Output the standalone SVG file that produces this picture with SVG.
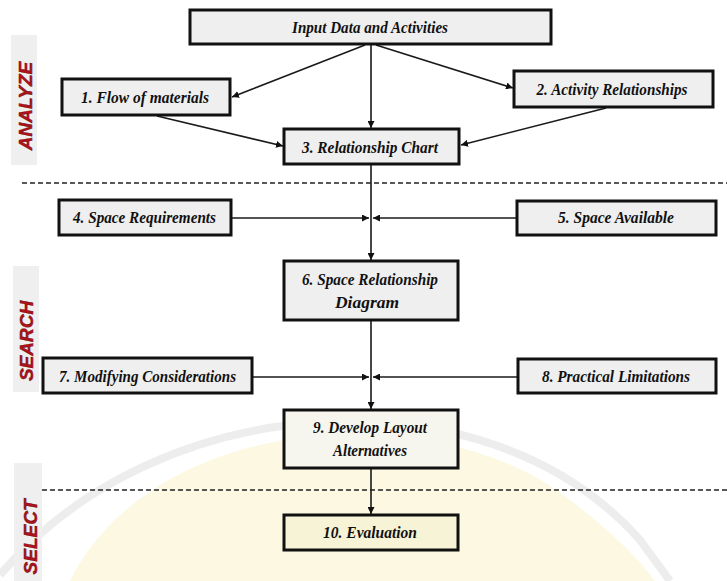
<svg xmlns="http://www.w3.org/2000/svg" width="727" height="581" viewBox="0 0 727 581">
  <style>
    .box { fill: #efefef; stroke: #111; stroke-width: 3; }
    .lbl { font-family: "Liberation Serif", "Times New Roman", serif; font-weight: bold; font-style: italic; font-size: 17px; fill: #111; text-anchor: middle; }
    .con { stroke: #1a1a1a; stroke-width: 1.6; fill: none; }
    .dash { stroke: #222; stroke-width: 1.5; stroke-dasharray: 5 3; fill: none; }
    .band { fill: #efefef; }
    .phase { font-family: "Liberation Sans", Arial, sans-serif; font-weight: bold; font-style: italic; font-size: 19px; fill: #b0121b; stroke: #5a0000; stroke-width: 0.4; text-anchor: middle; }
  </style>
  <defs>
    <marker id="arr" viewBox="0 0 10 10" refX="10" refY="5" markerWidth="7" markerHeight="7" markerUnits="userSpaceOnUse" orient="auto">
      <path d="M0,0 L10,5 L0,10 z" fill="#111"/>
    </marker>
  </defs>
  <rect x="0" y="0" width="727" height="581" fill="#ffffff"/>

  <g id="watermark" opacity="0.5">
    <path d="M70,581 C110,500 200,450 300,438 C400,428 500,445 570,500 C610,530 640,560 655,581 Z" fill="#fbf3c4"/>
    <path d="M0,575 C80,480 200,430 320,422 C440,416 560,450 640,540 L670,581" fill="none" stroke="#dddddd" stroke-width="8"/>
  </g>

  <g id="phases">
    <rect class="band" x="11" y="35" width="26" height="130"/>
    <text class="phase" transform="translate(32,106) rotate(-90)">ANALYZE</text>
    <rect class="band" x="13" y="266" width="26" height="126"/>
    <text class="phase" transform="translate(33,341) rotate(-90)">SEARCH</text>
    <rect class="band" x="14" y="463" width="28" height="118"/>
    <text class="phase" transform="translate(37,537) rotate(-90)">SELECT</text>
  </g>

  <g id="separators">
    <line class="dash" x1="22" y1="183" x2="727" y2="183"/>
    <line class="dash" x1="42" y1="490" x2="727" y2="490"/>
  </g>

  <g id="connectors">
    <path class="con" d="M365,45 L232,97" marker-end="url(#arr)"/>
    <path class="con" d="M376,45 L513,88" marker-end="url(#arr)"/>
    <path class="con" d="M371,45 L371,128" marker-end="url(#arr)"/>
    <path class="con" d="M157,116 L283,146" marker-end="url(#arr)"/>
    <path class="con" d="M606,108 L461,145" marker-end="url(#arr)"/>
    <path class="con" d="M371,165 L371,260" marker-end="url(#arr)"/>
    <path class="con" d="M232,218 L369,218" marker-end="url(#arr)"/>
    <path class="con" d="M516,218 L373,218" marker-end="url(#arr)"/>
    <path class="con" d="M371,321 L371,409" marker-end="url(#arr)"/>
    <path class="con" d="M253,377 L369,377" marker-end="url(#arr)"/>
    <path class="con" d="M517,377 L373,377" marker-end="url(#arr)"/>
    <path class="con" d="M371,469 L371,514" marker-end="url(#arr)"/>
  </g>

  <g id="input">
    <rect class="box" x="190" y="10" width="361" height="34"/>
    <text class="lbl" x="370" y="33" textLength="156" lengthAdjust="spacingAndGlyphs">Input Data and Activities</text>
  </g>
  <g id="n1">
    <rect class="box" x="62" y="79" width="168" height="36"/>
    <text class="lbl" x="145" y="103" textLength="128" lengthAdjust="spacingAndGlyphs">1. Flow of materials</text>
  </g>
  <g id="n2">
    <rect class="box" x="514" y="71" width="199" height="36"/>
    <text class="lbl" x="612" y="95" textLength="151" lengthAdjust="spacingAndGlyphs">2. Activity Relationships</text>
  </g>
  <g id="n3">
    <rect class="box" x="284" y="129" width="175" height="35"/>
    <text class="lbl" x="370" y="153" textLength="136" lengthAdjust="spacingAndGlyphs">3. Relationship Chart</text>
  </g>
  <g id="n4">
    <rect class="box" x="59" y="200" width="172" height="35"/>
    <text class="lbl" x="144.5" y="223" textLength="143" lengthAdjust="spacingAndGlyphs">4. Space Requirements</text>
  </g>
  <g id="n5">
    <rect class="box" x="517" y="201" width="199" height="34"/>
    <text class="lbl" x="616" y="223" textLength="116" lengthAdjust="spacingAndGlyphs">5. Space Available</text>
  </g>
  <g id="n6">
    <rect class="box" x="284" y="261" width="174" height="59"/>
    <text class="lbl" x="370" y="285" textLength="136" lengthAdjust="spacingAndGlyphs">6. Space Relationship</text>
    <text class="lbl" x="367" y="308" textLength="64" lengthAdjust="spacingAndGlyphs">Diagram</text>
  </g>
  <g id="n7">
    <rect class="box" x="43" y="358" width="209" height="35"/>
    <text class="lbl" x="147.5" y="382" textLength="177" lengthAdjust="spacingAndGlyphs">7. Modifying Considerations</text>
  </g>
  <g id="n8">
    <rect class="box" x="518" y="359" width="198" height="34"/>
    <text class="lbl" x="616" y="382" textLength="148" lengthAdjust="spacingAndGlyphs">8. Practical Limitations</text>
  </g>
  <g id="n9">
    <rect class="box" x="284" y="410" width="174" height="58" style="fill:#f7f6ee"/>
    <text class="lbl" x="370" y="433" textLength="114" lengthAdjust="spacingAndGlyphs">9. Develop Layout</text>
    <text class="lbl" x="370" y="456" textLength="74" lengthAdjust="spacingAndGlyphs">Alternatives</text>
  </g>
  <g id="n10">
    <rect class="box" x="284" y="515" width="174" height="35" style="fill:#f6f3d6"/>
    <text class="lbl" x="370" y="538" textLength="94" lengthAdjust="spacingAndGlyphs">10. Evaluation</text>
  </g>
</svg>
